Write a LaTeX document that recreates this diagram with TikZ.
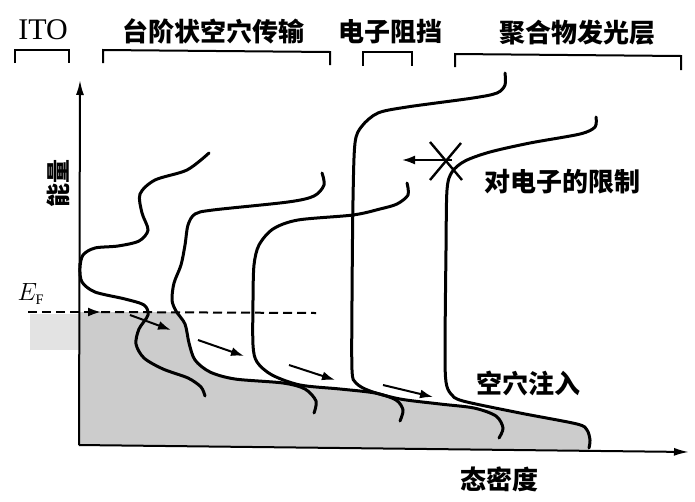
\documentclass[tikz,border=0pt]{standalone}
\usepackage{fontspec}
\setmainfont{Liberation Serif}
\newfontfamily\cjk{Noto Sans CJK SC}
\usetikzlibrary{arrows.meta}

\begin{document}
\begin{tikzpicture}[x=1pt, y=-1pt,
    dos/.style={line width=3pt, line cap=round, smooth, tension=0.5},
    layer/.style={line width=2pt},
    axis/.style={line width=2pt, -{Latex[length=15pt, width=8pt]}},
    flow/.style={line width=2pt, -{Latex[length=13pt, width=9pt]}},
    fermi/.style={line width=2pt, dash pattern=on 9pt off 5pt},
    occupied/.style={fill=black!20},
    title/.style={font=\cjk\bfseries\fontsize{26}{28}\selectfont, inner sep=0pt}]
  \useasboundingbox (0,0) rectangle (695,501);

  \fill[black!11] (30,314) rectangle (79,350);
  \fill[occupied] (79,445) -- (79,312) -- plot[smooth, tension=0.5] coordinates {
      (176,312) (185,324) (189,343) (195,360) (210,372) (235,379) (283,383)
      (340,389) (375,393) (400,399) (440,404) (474,408) (520,413) (577,424)
      (587,430) (590,440) (589,450)} -- cycle;

  \node[inner sep=0pt, font=\fontsize{30}{32}\selectfont] (ito) at (43,30) {ITO};
  \node[title] (htl) at (213,31) {台阶状空穴传输};
  \node[title] (ebl) at (390,32) {电子阻挡};
  \node[title] (eml) at (577,33) {聚合物发光层};
  \draw[layer] (15,63) -- (15,50) -- (69,50) -- (69,63);
  \draw[layer] (103,63) -- (103,50) -- (330,52) -- (330,65);
  \draw[layer] (363,66) -- (363,52) -- (412,52) -- (412,66);
  \draw[layer] (455,67) -- (455,54) -- (681,56) -- (681,70);

  \coordinate (origin) at (79,445);
  \draw[axis] (origin) -- (80,80);
  \draw[axis] (origin) -- (689,452);
  \node[title, rotate=90, font=\cjk\bfseries\fontsize{24}{26}\selectfont] (energy) at (58,183) {能量};
  \node[title] (dos) at (499,479) {态密度};

  \draw[dos] plot coordinates {(209,153) (187,170) (155,180) (140,194) (142,213)
      (148,230) (139,241) (118,246) (95,248) (83,255) (80,268) (82,282) (95,292)
      (125,299) (144,305) (148,315) (139,329) (136,344) (144,358) (163,369)
      (188,378) (201,387) (205,396)};
  \draw[dos] plot coordinates {(322,173) (324,185) (314,196) (288,202) (213,210)
      (195,214) (188,225) (185,245) (181,265) (174,283) (172,300) (176,311)
      (185,324) (189,343) (195,360) (210,372) (235,379) (283,383) (305,389)
      (316,401) (314,413)};
  \draw[dos] plot coordinates {(407,183) (408,195) (397,204) (380,209) (353,215)
      (298,220) (273,229) (259,245) (254,265) (253,300) (253,345) (257,362)
      (272,375) (300,385) (340,389) (375,393) (396,400) (403,410) (400,421)};
  \draw[dos] plot coordinates {(505,73) (505,85) (497,93) (473,98) (407,107)
      (378,113) (362,126) (355,143) (353,200) (352,300) (352,370) (356,383)
      (370,391) (400,399) (440,404) (474,408) (496,416) (503,428) (499,438)};
  \draw[dos] plot coordinates {(596,117) (595,127) (580,134) (530,143) (490,152)
      (465,161) (452,172) (447,190) (446,250) (445,350) (446,382) (451,394)
      (463,401) (520,413) (577,424) (587,430) (590,440) (589,448)};

  \node[inner sep=0pt, font=\fontsize{29}{30}\selectfont] (ef) at (31,294) {$E_{\scriptscriptstyle\mathrm{F}}$};
  \coordinate (ef start) at (28,312);
  \coordinate (ef tip) at (101,312);
  \coordinate (ef end) at (316,313);
  \draw[fermi, -{Latex[length=13pt, width=9pt]}] (ef start) -- (ef tip);
  \draw[fermi] (ef tip) -- (ef end);

  \coordinate (h1) at (130,315);  \coordinate (h2) at (171,330);
  \coordinate (h3) at (198,340);  \coordinate (h4) at (244,356);
  \coordinate (h5) at (289,365);  \coordinate (h6) at (335,380);
  \coordinate (h7) at (383,385);  \coordinate (h8) at (433,397);
  \draw[flow] (h1) -- (h2);
  \draw[flow] (h3) -- (h4);
  \draw[flow] (h5) -- (h6);
  \draw[flow] (h7) -- (h8);
  \node[title] (inject) at (528,383) {空穴注入};

  \coordinate (e1) at (452,160);
  \coordinate (e2) at (402,160);
  \draw[flow] (e1) -- (e2);
  \draw[layer, line width=2.4pt] (430,142) -- (462,180);
  \draw[layer, line width=2.4pt] (461,143) -- (430,180);
  \node[title] (confine) at (562,182) {对电子的限制};
\end{tikzpicture}
\end{document}
